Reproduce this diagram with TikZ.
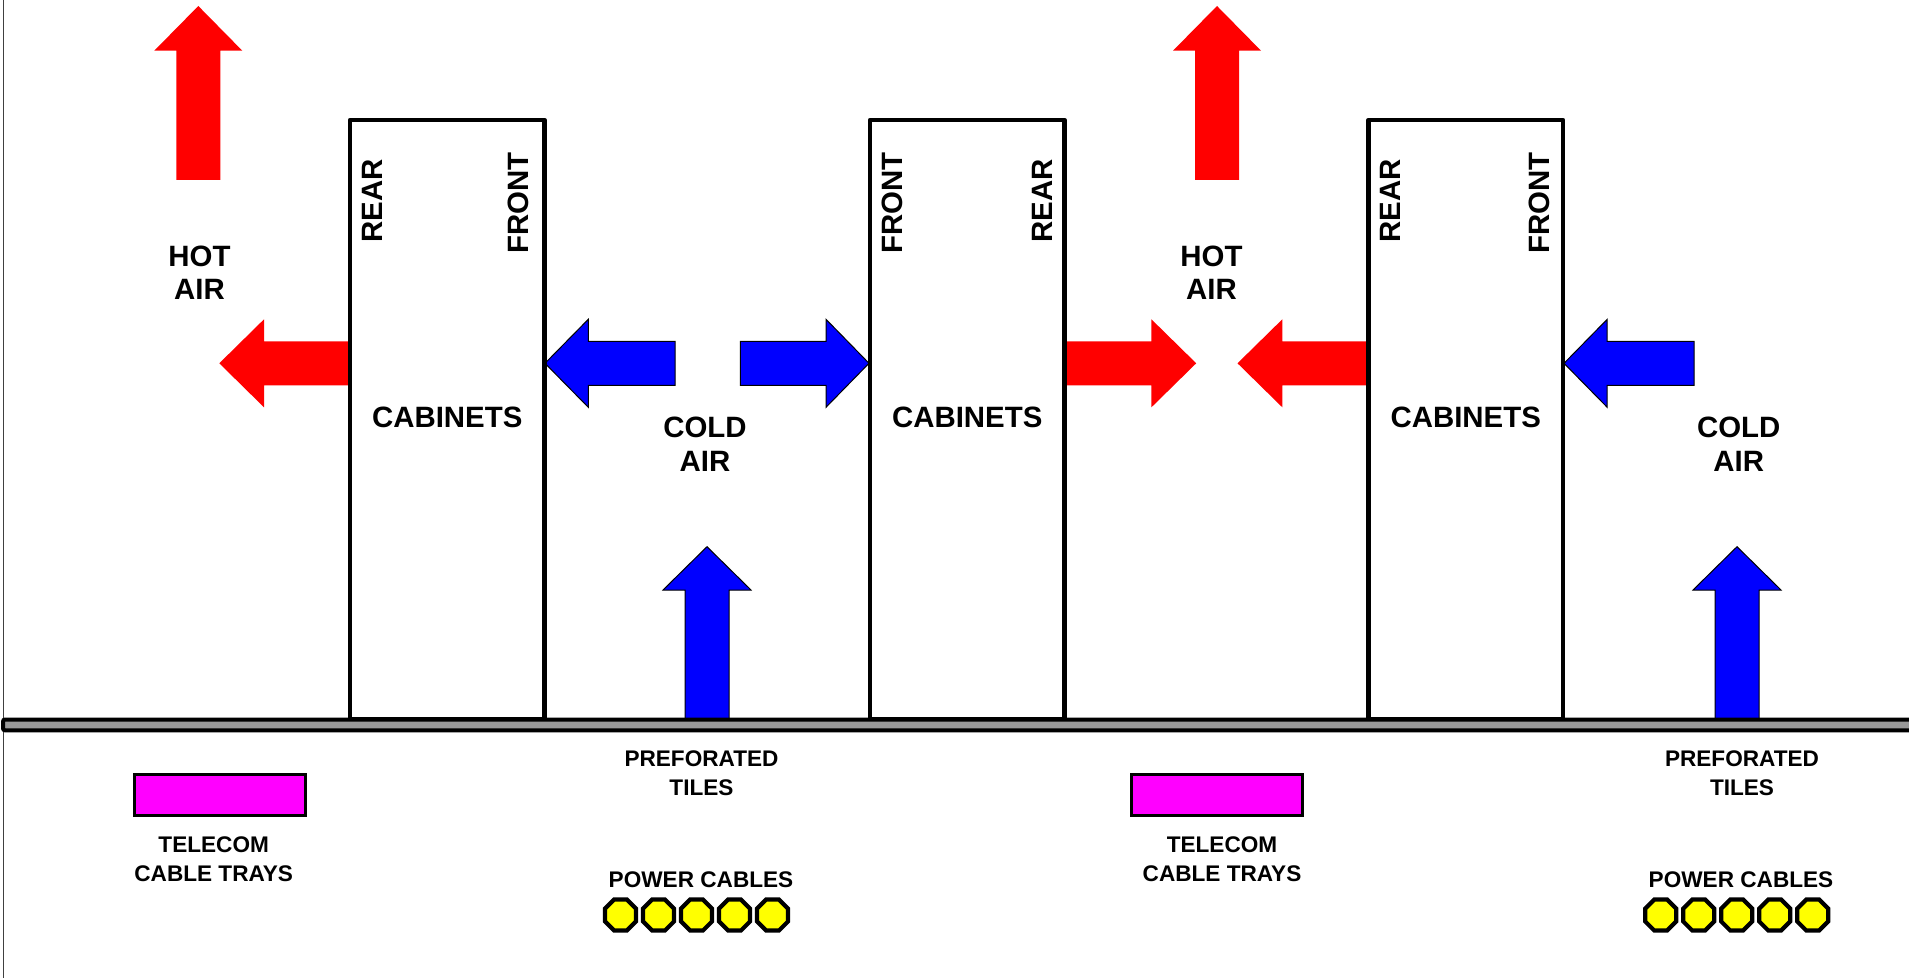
\documentclass[tikz,border=0pt]{standalone}
\usepackage{fontspec}
\setmainfont{Liberation Sans}
\usetikzlibrary{shapes.geometric}
\definecolor{hotred}{RGB}{255,0,0}
\definecolor{coldblue}{RGB}{0,0,255}
\definecolor{traymag}{RGB}{255,0,255}
\definecolor{cableyel}{RGB}{255,255,0}
\definecolor{floorgray}{RGB}{153,153,153}
\begin{document}
\begin{tikzpicture}[x=0.5pt,y=-0.5pt,
  bigtxt/.style={font=\fontsize{14.7}{16.7}\selectfont\bfseries, inner sep=0pt, align=center},
  smalltxt/.style={font=\fontsize{11.3}{14.4}\selectfont\bfseries, inner sep=0pt, align=center},
  cabinet/.style={draw, line width=2.2pt, line join=round, rectangle, minimum width=97.25pt,
    minimum height=299.5pt, inner sep=0pt, text depth=2pt, font=\fontsize{14.7}{16.7}\selectfont\bfseries},
  sidetxt/.style={font=\fontsize{14.7}{16.7}\selectfont\bfseries, inner sep=0pt, rotate=90},
  hot/.style={fill=hotred},
  cold/.style={fill=coldblue, draw=black, line width=0.5pt},
  tray/.style={draw, fill=traymag, line width=1.6pt, minimum width=85.4pt, minimum height=20.8pt, inner sep=0pt},
  cable/.style={draw, fill=cableyel, line width=2.1pt, regular polygon, regular polygon sides=8,
    minimum size=16.8pt, inner sep=0pt},
]
\useasboundingbox (0,0) rectangle (1909,978);
\fill[white] (0,0) rectangle (1909,978);
% left border line
\draw[black!75, line width=0.5pt] (3.3,0) -- (3.3,978);

% hot air arrows (up)
\path[hot] (176.3,180) -- (176.3,50.7) -- (154.3,50.7) -- (198.3,6) -- (242.3,50.7) -- (220.3,50.7) -- (220.3,180) -- cycle;
\path[hot] (1195,180) -- (1195,50.7) -- (1173,50.7) -- (1217,6) -- (1261,50.7) -- (1239,50.7) -- (1239,180) -- cycle;
% cold air arrows (up)
\path[cold] (685,719) -- (685,590) -- (663,590) -- (707,546.7) -- (751,590) -- (729,590) -- (729,719) -- cycle;
\path[cold] (1715,719) -- (1715,590) -- (1693,590) -- (1737,546.7) -- (1781,590) -- (1759,590) -- (1759,719) -- cycle;
% horizontal arrows
\path[hot] (350,341.3) -- (264,341.3) -- (264,319.3) -- (219.3,363.3) -- (264,407.3) -- (264,385.3) -- (350,385.3) -- cycle;
\path[cold] (675,341.3) -- (588.3,341.3) -- (588.3,319.3) -- (545,363.3) -- (588.3,407.3) -- (588.3,385.3) -- (675,385.3) -- cycle;
\path[cold] (740.4,341.3) -- (826,341.3) -- (826,319.3) -- (869,363.3) -- (826,407.3) -- (826,385.3) -- (740.4,385.3) -- cycle;
\path[hot] (1064.5,341.3) -- (1151.4,341.3) -- (1151.4,319.3) -- (1196.2,363.3) -- (1151.4,407.3) -- (1151.4,385.3) -- (1064.5,385.3) -- cycle;
\path[hot] (1368,341.3) -- (1282.3,341.3) -- (1282.3,319.3) -- (1237.5,363.3) -- (1282.3,407.3) -- (1282.3,385.3) -- (1368,385.3) -- cycle;
\path[cold] (1694.2,341.3) -- (1607.2,341.3) -- (1607.2,319.3) -- (1564,363.3) -- (1607.2,407.3) -- (1607.2,385.3) -- (1694.2,385.3) -- cycle;

% cabinets
\node[cabinet] (cab1) at (447.25,419.5) {CABINETS};
\node[cabinet] (cab2) at (967.25,419.5) {CABINETS};
\node[cabinet] (cab3) at (1465.75,419.5) {CABINETS};
\node[sidetxt] (rear1) at (372.3,201) {REAR};
\node[sidetxt] (front1) at (518.7,202.8) {FRONT};
\node[sidetxt] (front2) at (892.3,202.8) {FRONT};
\node[sidetxt] (rear2) at (1042.8,201) {REAR};
\node[sidetxt] (rear3) at (1390.8,201) {REAR};
\node[sidetxt] (front3) at (1539,202.8) {FRONT};

% air labels
\node[bigtxt] (hot1) at (199.5,272.8) {HOT\\AIR};
\node[bigtxt] (hot2) at (1211.5,272.8) {HOT\\AIR};
\node[bigtxt, font=\fontsize{14.7}{17.2}\selectfont\bfseries] (cold1) at (705,444.5) {COLD\\AIR};
\node[bigtxt, font=\fontsize{14.7}{17.2}\selectfont\bfseries] (cold2) at (1738.7,444.5) {COLD\\AIR};

% floor
\draw[line width=2pt, fill=floorgray, rounded corners=1pt] (3,719.5) rectangle (1930,730.3);

% under floor
\node[smalltxt] (tiles1) at (701.5,773.2) {PREFORATED\\TILES};
\node[smalltxt] (tiles2) at (1742,773.2) {PREFORATED\\TILES};
\node[tray] (tray1) at (220.1,795) {};
\node[tray] (tray2) at (1217,795) {};
\node[smalltxt] (tel1) at (213.7,859.3) {TELECOM\\CABLE TRAYS};
\node[smalltxt] (tel2) at (1222,859.3) {TELECOM\\CABLE TRAYS};
\node[smalltxt] (pow1) at (701,880) {POWER CABLES};
\node[smalltxt] (pow2) at (1741,880) {POWER CABLES};
\foreach \i in {0,...,4} {
  \node[cable] (pca\i) at (620.5+38*\i,915) {};
  \node[cable] (pcb\i) at (1660.7+38*\i,915) {};
}
\end{tikzpicture}
\end{document}
